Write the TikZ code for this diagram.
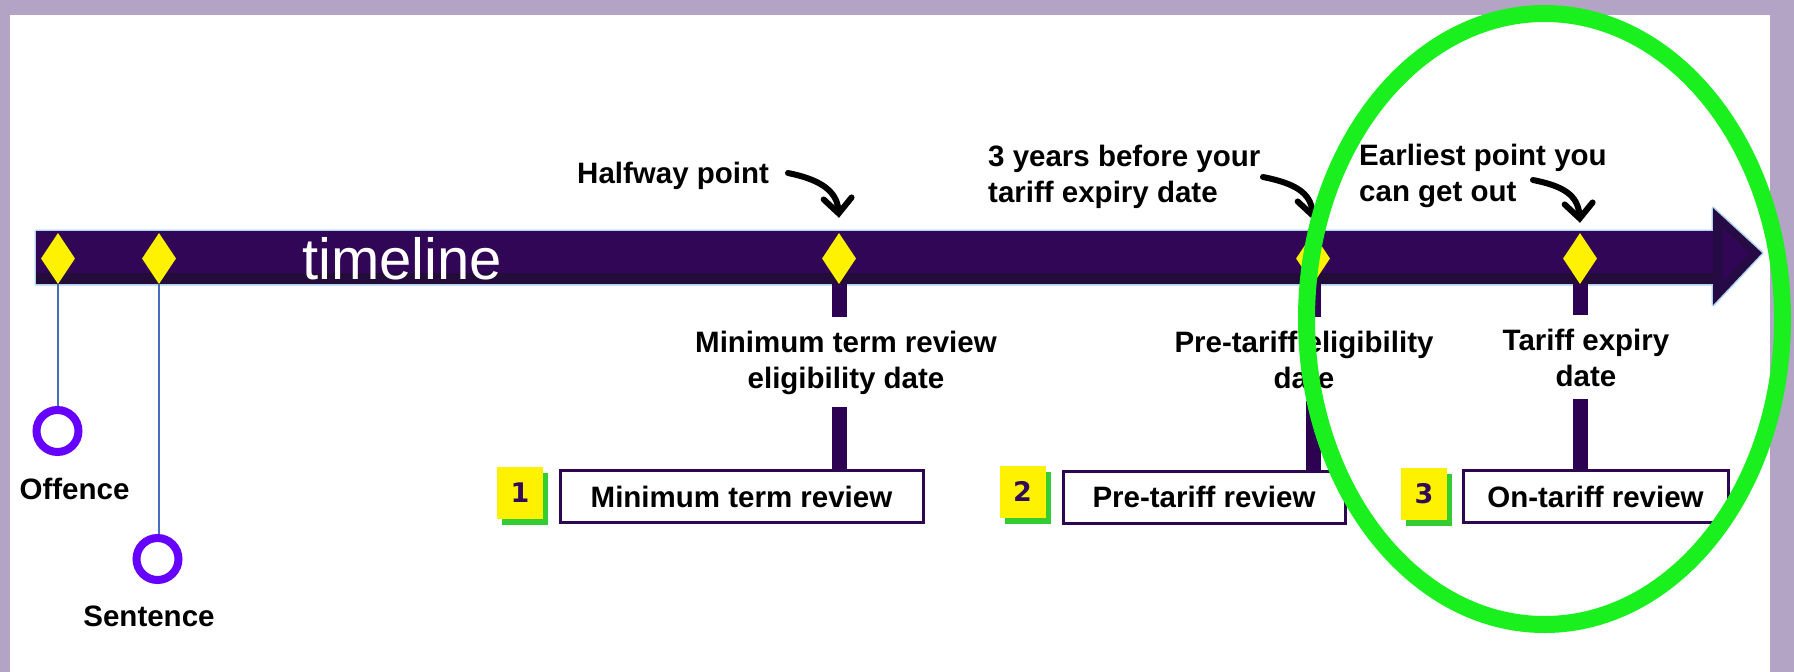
\documentclass[tikz,border=0pt]{standalone}
\usepackage{fontspec}
\setmainfont{Liberation Sans}
\newfontfamily\digitfont{DejaVu Sans}
\usetikzlibrary{shapes.geometric,arrows.meta,shadows}

\definecolor{framec}{RGB}{179,164,198}
\definecolor{barc}{RGB}{50,6,86}
\definecolor{bandc}{RGB}{36,12,58}
\definecolor{headc}{RGB}{38,10,68}
\definecolor{glowc}{RGB}{175,210,240}
\definecolor{tickc}{RGB}{45,2,82}
\definecolor{boxc}{RGB}{45,8,80}
\definecolor{numc}{RGB}{50,10,90}
\definecolor{shadowc}{RGB}{51,204,51}
\definecolor{ringc}{RGB}{26,240,30}
\definecolor{stemc}{RGB}{70,110,190}
\definecolor{dotc}{RGB}{102,0,255}

\begin{document}
\begin{tikzpicture}[x=1pt,y=-1pt,
  lbl/.style={font=\fontsize{29.5}{36}\selectfont\bfseries, inner sep=0},
  dia/.style={shape=diamond, fill=yellow, inner sep=0, minimum width=34, minimum height=51},
  stem/.style={draw=stemc, line width=2},
  hole/.style={circle, draw=dotc, line width=8, minimum size=42, inner sep=0},
  tickbar/.style={draw=tickc, line width=15},
  rev/.style={lbl, draw=boxc, line width=3, fill=white, minimum height=52},
  num/.style={fill=yellow, minimum width=46, minimum height=52, inner sep=0,
    text=numc, font=\digitfont\bfseries\fontsize{27}{30}\selectfont,
    drop shadow={shadow xshift=5pt, shadow yshift=-6pt, fill=shadowc, opacity=1}},
  pointer/.style={draw=black, line width=6, line cap=round,
    -{Straight Barb[length=15pt,width=28pt,line cap=round]}},
  ring/.style={draw=ringc, line width=17}]

\useasboundingbox (0,0) rectangle (1794,672);
\fill[framec] (0,0) rectangle (1794,672);
\fill[white] (10,15) rectangle (1770,672);

% the timeline arrow
\draw[glowc, line width=3, line join=round]
  (36,231) -- (1713,231) -- (1713,208) -- (1762,253) -- (1713,305)
  -- (1713,284) -- (36,284) -- cycle;
\fill[barc] (36,231) rectangle (1713,284);
\fill[bandc] (36,273) rectangle (1713,284);
\fill[headc] (1713,208) -- (1762,253) -- (1713,305) -- cycle;
\fill[barc] (1723,228) -- (1750,253) -- (1723,281) -- cycle;
\node[anchor=base west, inner sep=0, text=white, font=\fontsize{58}{60}\selectfont]
  (tl) at (302,279) {timeline};

% points on the timeline
\node[dia] (d1) at (58,258.5) {};
\node[dia] (d2) at (159,258.5) {};
\node[dia] (d3) at (839,258.5) {};
\node[dia] (d4) at (1313,258.5) {};
\node[dia] (d5) at (1580,258.5) {};

% offence and sentence
\node[hole] (c1) at (57.5,431) {};
\node[hole] (c2) at (157.5,559) {};
\draw[stem] (d1.south) -- (d1.south |- c1.north);
\draw[stem] (d2.south) -- (d2.south |- c2.north);
\node[lbl, anchor=base] (off) at (74.5,499) {Offence};
\node[lbl, anchor=base] (sen) at (149,626) {Sentence};

% eligibility dates (anchored on the baseline of their last line)
\node[lbl, align=center, anchor=base, inner ysep=13] (l3) at (846,388) {Minimum term review\\eligibility date};
\node[lbl, align=center, anchor=base, inner ysep=13] (l4) at (1304,388) {Pre-tariff eligibility\\date};
\node[lbl, align=center, anchor=base, inner ysep=13] (l5) at (1586,386) {Tariff expiry\\date};

% reviews
\node[rev, minimum width=363] (b1) at (741.5,496.5) {Minimum term review};
\node[rev, minimum width=282] (b2) at (1204,497) {Pre-tariff review};
\node[rev, minimum width=265] (b3) at (1595.5,496.5) {On-tariff review};

\node[num] (n1) at (520,493) {1};
\node[num] (n2) at (1022.5,491.5) {2};
\node[num] (n3) at (1424,493.5) {3};

% ticks joining dates and reviews
\draw[tickbar] (d3.south) -- (d3.south |- l3.north);
\draw[tickbar] (d3 |- l3.south) -- (d3 |- b1.north);
\draw[tickbar] (d4.south) -- (d4.south |- l4.north);
\draw[tickbar] (d4 |- l4.south) -- (d4 |- b2.north);
\draw[tickbar] (d5.south) -- (d5.south |- l5.north);
\draw[tickbar] (d5 |- l5.south) -- (d5 |- b3.north);

% notes above the timeline
\node[lbl, anchor=base west] (hw) at (577,183) {Halfway point};
\node[lbl, anchor=base west, align=left] (ty) at (988,202) {3 years before your\\tariff expiry date};
\node[lbl, anchor=base west, align=left] (ep) at (1359,201) {Earliest point you\\can get out};

\coordinate (hwS) at (788,173);
\coordinate (hwT) at ([yshift=15pt]d3.north);
\coordinate (tyS) at (1263,177);
\coordinate (tyT) at ([yshift=13pt]d4.north);
\coordinate (epS) at (1533,180);
\coordinate (epT) at ([yshift=10pt]d5.north);
\draw[pointer] (hwS) .. controls +(30,6) and +(-2,-28) .. (hwT);
\draw[pointer] (tyS) .. controls +(30,6) and +(-2,-28) .. (tyT);
\draw[pointer] (epS) .. controls +(30,6) and +(-2,-28) .. (epT);

% highlight ring
\draw[ring] (1544.5,319) ellipse [x radius=238, y radius=305.5];
\end{tikzpicture}
\end{document}
